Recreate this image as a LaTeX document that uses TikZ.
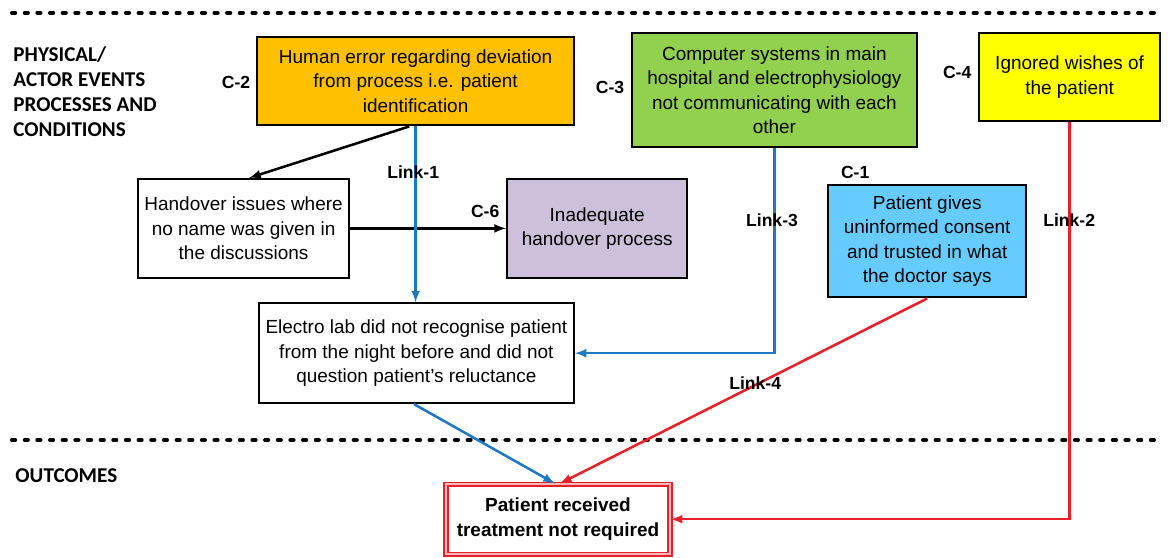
\documentclass[tikz,border=0pt]{standalone}
\usepackage{fontspec}
\setmainfont{Liberation Sans}
\newfontfamily\calib{Carlito}
\usepackage{tikz}
\usetikzlibrary{arrows,calc,positioning,shapes}
\definecolor{cOrange}{HTML}{FFC000}
\definecolor{cGreen}{HTML}{92D050}
\definecolor{cYellow}{HTML}{FFFF00}
\definecolor{cLilac}{HTML}{CCC0DA}
\definecolor{cSky}{HTML}{66CCFF}
\definecolor{linkblue}{HTML}{1F78C4}
\definecolor{linkred}{HTML}{E8202A}
\definecolor{palered}{HTML}{F6B8B8}
\tikzstyle{cause}=[rectangle,draw=black,line width=1.8pt,align=center,inner sep=2pt,font=\fontsize{13.5}{17.4}\selectfont]
\tikzstyle{plainbox}=[cause,line width=1.3pt,fill=white]
\tikzstyle{clbl}=[font=\bfseries\fontsize{12.5}{15}\selectfont,inner sep=1pt]
\tikzstyle{region}=[font=\calib\bfseries\fontsize{15}{17.8}\selectfont,align=left,anchor=west,inner sep=0pt]
\tikzstyle{sep}=[line width=2.8pt,line cap=round,dash pattern=on 2.3pt off 6.7pt]
\tikzstyle{lnk}=[line width=1.8pt]

\begin{document}
\begin{tikzpicture}[>=latex]
\useasboundingbox (0,0) rectangle (29.2,-13.95);
% section lines and headings
\coordinate (S1) at (0.3,-0.32);
\coordinate (S2) at (29.0,-0.32);
\coordinate (S3) at (0.3,-11.0);
\coordinate (S4) at (29.0,-11.0);
\draw [sep] (S1) to (S2);
\draw [sep] (S3) to (S4);
\node [region] (phys) at (0.33,-2.29) {PHYSICAL/\\ACTOR EVENTS\\PROCESSES AND\\CONDITIONS};
\node [region] (outc) at (0.38,-11.88) {OUTCOMES};
% causes
\node [cause,fill=cOrange,minimum width=7.93cm,minimum height=2.2cm] (c2) at (10.39,-2.03) {Human error regarding deviation\\from process i.e. patient\\identification};
\node [cause,fill=cGreen,minimum width=7.13cm,minimum height=2.85cm] (c3) at (19.36,-2.25) {Computer systems in main\\hospital and electrophysiology\\not communicating with each\\other};
\node [cause,fill=cYellow,minimum width=4.53cm,minimum height=2.2cm] (c4) at (26.74,-1.93) {Ignored wishes of\\the patient};
\node [plainbox,minimum width=5.28cm,minimum height=2.48cm] (hand) at (6.09,-5.71) {Handover issues where\\no name was given in\\the discussions};
\node [cause,fill=cLilac,minimum width=4.5cm,minimum height=2.48cm] (c6) at (14.93,-5.71) {Inadequate\\handover process};
\node [cause,fill=cSky,minimum width=4.95cm,minimum height=2.8cm] (c1) at (23.18,-6.03) {Patient gives\\uninformed consent\\and trusted in what\\the doctor says};
\node [plainbox,minimum width=7.88cm,minimum height=2.5cm] (lab) at (10.41,-8.83) {Electro lab did not recognise patient\\from the night before and did not\\question patient's reluctance};
\node [rectangle,draw=linkred,double=palered,double distance=1.4pt,line width=1.1pt,fill=white,align=center,minimum width=5.6cm,minimum height=1.75cm,font=\bfseries\fontsize{13.5}{17.8}\selectfont] (out) at (13.95,-12.98) {Patient received\\treatment not required};
% labels
\node [clbl] (lc2) at (5.9,-2.05) {C-2};
\node [clbl] (lc3) at (15.25,-2.18) {C-3};
\node [clbl] (lc4) at (23.93,-1.8) {C-4};
\node [clbl] (lc1) at (21.38,-4.3) {C-1};
\node [clbl] (lc6) at (12.13,-5.28) {C-6};
% links
\draw [->,lnk] ([xshift=-0.16cm]c2.south) to ([xshift=0.14cm]hand.north);
\draw [->,lnk] (hand.east) to (c6.west);
\draw [->,lnk,linkblue] (c2.south) to (c2.south |- lab.north);
\draw [->,lnk,linkblue] (c3.south) |- (lab.east);
\draw [->,lnk,linkblue] ([xshift=-0.06cm]lab.south) to ([xshift=-0.08cm]out.north);
\draw [->,lnk,linkred] (c1.south) to ([xshift=0.05cm]out.north);
\draw [->,lnk,linkred] (c4.south) |- (out.east);
\node [clbl] (l1) at (10.33,-4.3) {Link-1};
\node [clbl] (l3) at (19.3,-5.5) {Link-3};
\node [clbl] (l2) at (26.73,-5.5) {Link-2};
\node [clbl] (l4) at (18.88,-9.58) {Link-4};
\end{tikzpicture}
\end{document}
